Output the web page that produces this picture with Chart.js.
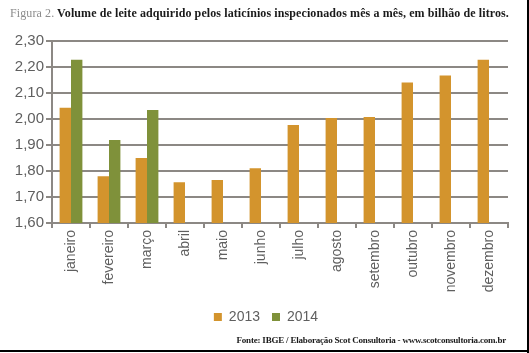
<!DOCTYPE html>
<html>
<head>
<meta charset="utf-8">
<script src="https://cdn.jsdelivr.net/npm/chart.js@4.4.1/dist/chart.umd.min.js"></script>
<style>
  html, body { margin: 0; padding: 0; background: #fff; }
  #wrap { position: relative; width: 529px; height: 353px; overflow: hidden; }
  #wrap:after { content: ''; position: absolute; right: 0; top: 0; bottom: 0; width: 2px; background: #000; }
  #wrap:before { content: ''; position: absolute; left: 0; right: 0; bottom: 1px; height: 2px; background: #000; }
  #chart { position: absolute; left: 0; top: 0; }
  .title { position: absolute; left: 10px; top: 6px; font-family: "Liberation Serif", serif; font-size: 12px; letter-spacing: 0.1px; white-space: nowrap; color: #1a1a1a; font-weight: bold; }
  .title span { color: #8c8c8c; font-weight: normal; }
  .source { position: absolute; right: 23px; top: 335px; font-family: "Liberation Serif", serif; font-size: 9px; letter-spacing: -0.2px; font-weight: bold; color: #1a1a1a; white-space: nowrap; }
</style>
</head>
<body>
<div id="wrap">
  <canvas id="chart" width="529" height="353"></canvas>
  <div class="title"><span>Figura 2.</span> Volume de leite adquirido pelos laticínios inspecionados mês a mês, em bilhão de litros.</div>
  <div class="source">Fonte: IBGE / Elaboração Scot Consultoria - www.scotconsultoria.com.br</div>
</div>
<script>
const months = ['janeiro', 'fevereiro', 'março', 'abril', 'maio', 'junho', 'julho', 'agosto', 'setembro', 'outubro', 'novembro', 'dezembro'];
const values2013 = [2.043, 1.780, 1.850, 1.757, 1.765, 1.811, 1.977, 2.004, 2.008, 2.140, 2.167, 2.228];
const values2014 = [2.228, 1.919, 2.035, null, null, null, null, null, null, null, null, null];
const yTickLabels = ['1,60', '1,70', '1,80', '1,90', '2,00', '2,10', '2,20', '2,30'];

const gridColor = '#8c8884';
const labelColor = '#5f5f5f';

// legend sits a bit right of the canvas centre in the original
const legendShift = {
    id: 'legendShift',
    afterLayout(chart) {
        if (chart.legend) {
            chart.legend.left += 12;
            chart.legend.right += 12;
        }
    }
};

const ctx = document.getElementById('chart').getContext('2d');
new Chart(ctx, {
    type: 'bar',
    data: {
        labels: months,
        datasets: [
            { label: '2013', data: values2013, backgroundColor: '#d3942d' },
            { label: '2014', data: values2014, backgroundColor: '#7f913a' }
        ]
    },
    options: {
        responsive: false,
        animation: false,
        devicePixelRatio: 1,
        categoryPercentage: 0.6,
        barPercentage: 1,
        layout: { padding: { top: 41, right: 21, left: 0, bottom: 19 } },
        plugins: {
            tooltip: { enabled: false },
            legend: {
                position: 'bottom',
                labels: {
                    boxWidth: 8, boxHeight: 8, padding: 12,
                    color: labelColor,
                    font: { family: 'Liberation Sans', size: 14 }
                }
            }
        },
        scales: {
            x: {
                grid: { drawOnChartArea: false, drawTicks: true, tickLength: 5, color: gridColor, lineWidth: 2 },
                border: { display: true, color: gridColor, width: 2 },
                ticks: {
                    minRotation: 90, maxRotation: 90, padding: 2,
                    color: labelColor,
                    font: { family: 'Liberation Sans', size: 14 }
                },
                afterFit: scale => { scale.height = 75; }
            },
            y: {
                min: 1.6, max: 2.3,
                grid: { color: gridColor, lineWidth: 2, tickLength: 6 },
                border: { display: true, color: gridColor, width: 2 },
                ticks: {
                    stepSize: 0.1, padding: 2,
                    color: labelColor,
                    font: { family: 'Liberation Sans', size: 15 },
                    callback: (v, i) => yTickLabels[i]
                },
                afterFit: scale => { scale.width = 52; }
            }
        }
    },
    plugins: [legendShift]
});
</script>
</body>
</html>
